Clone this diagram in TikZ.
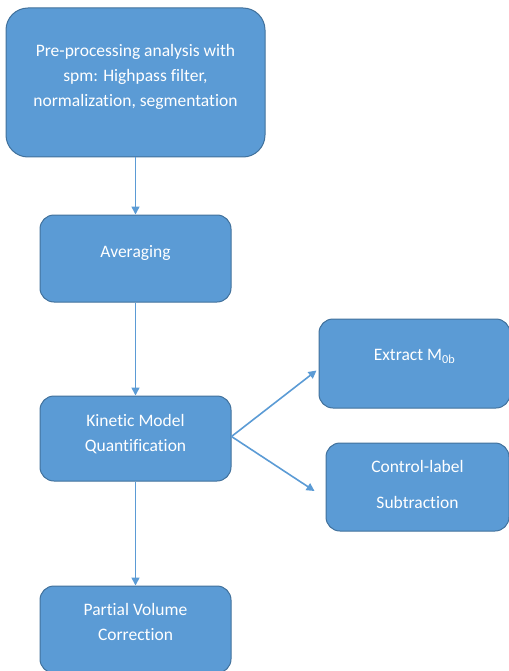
\documentclass[tikz,border=0pt]{standalone}
\usepackage{fontspec}
\setmainfont[Ligatures=NoCommon]{Carlito}
\usetikzlibrary{positioning,arrows.meta}
\definecolor{boxblue}{RGB}{91,155,213}
\definecolor{boxline}{RGB}{65,113,156}
\tikzset{
	box/.style={draw=boxline, line width=1pt, fill=boxblue, text=white,
		rounded corners=14pt, align=center, inner sep=0pt, text depth=15pt,
		font=\fontsize{17.5}{25}\selectfont,
		minimum width=191pt, minimum height=87pt},
	every edge/.style={draw=boxblue, line width=1.6pt}
}

\begin{document}
\begin{tikzpicture}[x=1pt, y=1pt, ->, >={Triangle[length=8pt,width=8pt]}]
			\useasboundingbox (0,0) rectangle (508,-671);
			\node (1) [box, minimum width=259pt, minimum height=149pt, rounded corners=22pt] at (135.5,-82.5) {Pre-processing analysis with\\spm: Highpass filter,\\normalization, segmentation};
			\node (2) [box, below=57pt of 1] {Averaging};
			\node (3) [box, below=93pt of 2, minimum height=85pt, text depth=12pt] {Kinetic Model\\Quantification};
			\node (4) [box, below=104pt of 3] {Partial Volume\\Correction};
			\node (5) [box, right=87pt of 3, yshift=75pt, minimum height=89pt, text depth=17pt] {Extract M\textsubscript{0b}};
			\node (6) [box, right=94pt of 3, yshift=-48.5pt, minimum width=183pt, minimum height=88pt, text depth=5pt] {Control-label\\[11pt]Subtraction};
			\path
			(1) edge (2)
			(2) edge (3)
			(3) edge (4)
			([yshift=2pt]3.east) edge ([xshift=-2pt,yshift=-7pt]5.west)
			([yshift=2pt]3.east) edge ([xshift=-11pt,yshift=-4pt]6.west);
		\end{tikzpicture}
\end{document}
